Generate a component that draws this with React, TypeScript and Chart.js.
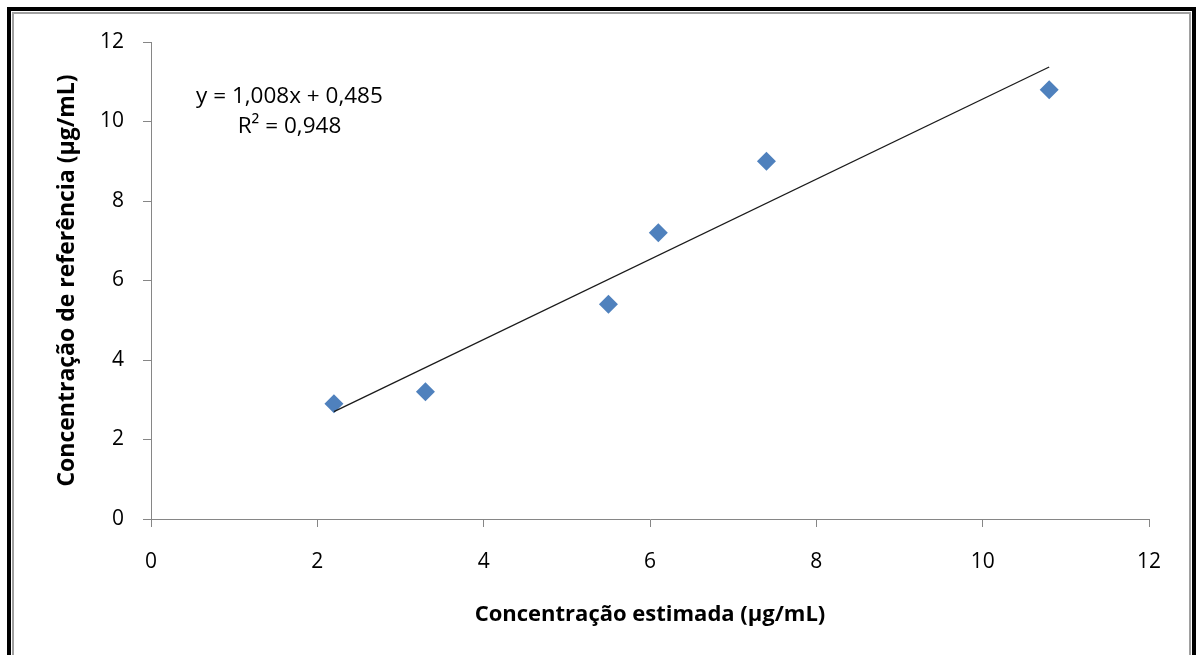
import React, { useEffect, useRef } from "react";
import { Chart, registerables } from "chart.js";

Chart.register(...registerables);

// Data
const estimatedX = [2.2, 3.3, 5.5, 6.1, 7.4, 10.8];
const referenceY = [2.9, 3.2, 5.4, 7.2, 9.0, 10.8];
const trendX = [2.2, 10.8];
const trendY = [2.703, 11.371];
const xTicks = [0, 2, 4, 6, 8, 10, 12];
const yTicks = [0, 2, 4, 6, 8, 10, 12];
const equationLines = ["y = 1,008x + 0,485", "R² = 0,948"];
const equationAnchor = { x: 1.665, y1: 10.62, y2: 9.86 };

const xTitle = "Concentração estimada (µg/mL)";
const yTitle = "Concentração de referência (µg/mL)";

const FONT = "'Open Sans', 'Noto Sans', sans-serif";
const AXIS_GRAY = "#868686";

const equationPlugin = {
  id: "equationText",
  afterDraw(chart: any) {
    const { ctx, scales } = chart;
    const xs = scales.x;
    const ys = scales.y;
    ctx.save();
    ctx.fillStyle = "#000";
    ctx.font = `22.5px ${FONT}`;
    ctx.textAlign = "center";
    ctx.textBaseline = "middle";
    const px = xs.getPixelForValue(equationAnchor.x);
    ctx.fillText(equationLines[0], px, ys.getPixelForValue(equationAnchor.y1));
    ctx.fillText(equationLines[1], px, ys.getPixelForValue(equationAnchor.y2));
    ctx.restore();
  },
};

export default function App() {
  const canvasRef = useRef<HTMLCanvasElement | null>(null);

  useEffect(() => {
    const canvas = canvasRef.current;
    if (!canvas) return;
    const chart = new Chart(canvas, {
      type: "scatter",
      data: {
        datasets: [
          {
            label: "Concentração",
            data: estimatedX.map((x, i) => ({ x, y: referenceY[i] })),
            pointStyle: "rectRot",
            pointRadius: 9.5,
            pointHoverRadius: 9.5,
            backgroundColor: "#4F81BD",
            borderColor: "#4F81BD",
            borderWidth: 0,
            order: 1,
          },
          {
            type: "line",
            label: "Linear",
            data: trendX.map((x, i) => ({ x, y: trendY[i] })),
            borderColor: "#1a1a1a",
            borderWidth: 1.3,
            pointRadius: 0,
            showLine: true,
            fill: false,
            order: 0,
          } as any,
        ],
      },
      options: {
        responsive: false,
        animation: false,
        events: [],
        layout: { padding: { left: 0, right: 40, top: 28, bottom: 0 } },
        plugins: {
          legend: { display: false },
          tooltip: { enabled: false },
        },
        scales: {
          x: {
            type: "linear",
            min: 0,
            max: 12,
            afterBuildTicks(scale: any) {
              scale.ticks = xTicks.map((v) => ({ value: v }));
            },
            afterFit(scale: any) {
              scale.height = 136;
              scale.paddingLeft = 14;
              scale.paddingRight = 14;
            },
            grid: {
              drawOnChartArea: false,
              drawTicks: true,
              tickLength: 8,
              color: AXIS_GRAY,
            },
            border: { display: true, color: AXIS_GRAY, width: 1 },
            ticks: {
              color: "#000",
              font: { family: FONT, size: 21 },
              padding: 22,
            },
            title: {
              display: true,
              text: xTitle,
              color: "#000",
              font: { family: FONT, size: 22, weight: "bold" },
              padding: { top: 0, bottom: 27 },
            },
          },
          y: {
            type: "linear",
            min: 0,
            max: 12,
            afterBuildTicks(scale: any) {
              scale.ticks = yTicks.map((v) => ({ value: v }));
            },
            afterFit(scale: any) {
              scale.width = 137;
              scale.paddingTop = 13;
              scale.paddingBottom = 13;
            },
            grid: {
              drawOnChartArea: false,
              drawTicks: true,
              tickLength: 8,
              color: AXIS_GRAY,
            },
            border: { display: true, color: AXIS_GRAY, width: 1 },
            ticks: {
              color: "#000",
              font: { family: FONT, size: 21 },
              padding: 19,
            },
            title: {
              display: true,
              text: yTitle,
              color: "#000",
              font: { family: FONT, size: 23, weight: "bold" },
              padding: { top: 40, bottom: 0 },
            },
          },
        },
      },
      plugins: [equationPlugin],
    });
    return () => chart.destroy();
  }, []);

  return (
    <div
      style={{
        position: "fixed",
        left: 7,
        top: 7,
        width: 1189,
        height: 720,
        boxSizing: "border-box",
        border: "4px solid #000",
        background: "#fff",
      }}
    >
      <div
        style={{
          position: "absolute",
          left: 1,
          top: 1,
          width: 1179,
          height: 705,
          boxSizing: "border-box",
          border: "2px solid #a0a0a0",
        }}
      >
        <canvas
          ref={canvasRef}
          width={1175}
          height={641}
          style={{ display: "block", width: 1175, height: 641 }}
        />
      </div>
    </div>
  );
}
